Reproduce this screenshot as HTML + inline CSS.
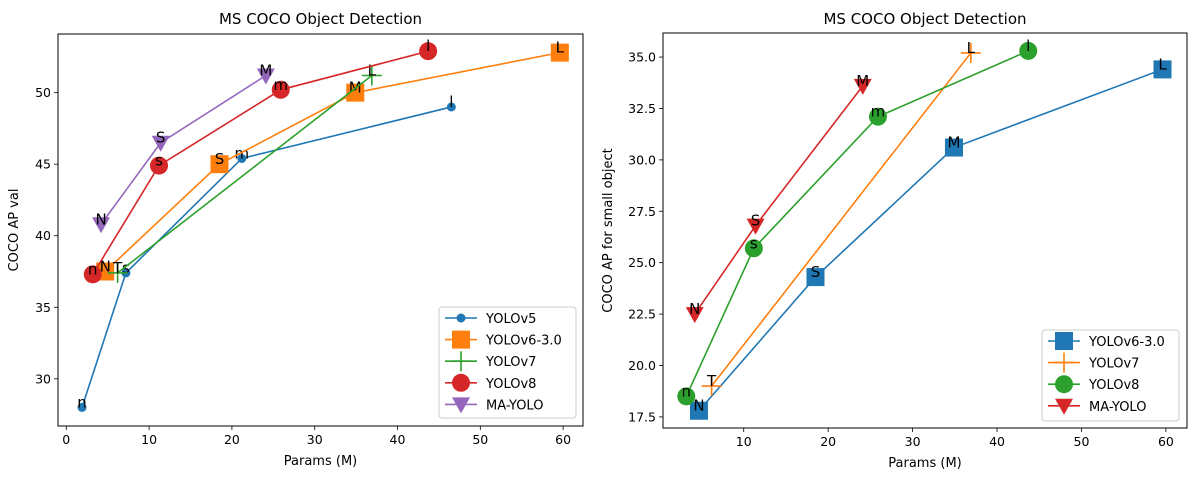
<!DOCTYPE html>
<html><head><meta charset="utf-8"><style>
body{margin:0;background:#fff;}
svg{font-family:"DejaVu Sans","Liberation Sans",sans-serif;}
</style></head><body>
<svg id="fig" width="1193" height="474" viewBox="0 0 1193 474"></svg>
<script>
// ---- data: left chart (COCO AP val) ----
const L_v5_x=[1.9,7.2,21.2,46.5], L_v5_y=[28.0,37.4,45.4,49.0], L_v5_lab=['n','s','m','l'];
const L_v6_x=[4.7,18.5,34.9,59.6], L_v6_y=[37.5,45.0,50.0,52.8], L_v6_lab=['N','S','M','L'];
const L_v7_x=[6.2,36.9], L_v7_y=[37.4,51.2], L_v7_lab=['T','L'];
const L_v8_x=[3.2,11.2,25.9,43.7], L_v8_y=[37.3,44.9,50.2,52.9], L_v8_lab=['n','s','m','l'];
const L_ma_x=[4.2,11.4,24.1], L_ma_y=[40.8,46.5,51.2], L_ma_lab=['N','S','M'];
const L_xticks=[0,10,20,30,40,50,60], L_yticks=[30,35,40,45,50];
// ---- data: right chart (small objects) ----
const R_v6_x=[4.7,18.5,34.9,59.6], R_v6_y=[17.8,24.3,30.6,34.4], R_v6_lab=['N','S','M','L'];
const R_v7_x=[6.2,36.9], R_v7_y=[19.0,35.2], R_v7_lab=['T','L'];
const R_v8_x=[3.2,11.2,25.9,43.7], R_v8_y=[18.5,25.7,32.1,35.3], R_v8_lab=['n','s','m','l'];
const R_ma_x=[4.2,11.4,24.1], R_ma_y=[22.5,26.8,33.6], R_ma_lab=['N','S','M'];
const R_xticks=[10,20,30,40,50,60], R_yticks=[17.5,20.0,22.5,25.0,27.5,30.0,32.5,35.0];

const NS='http://www.w3.org/2000/svg';
const svg=document.getElementById('fig');
function mk(tag,attrs,parent){const e=document.createElementNS(NS,tag);for(const k in attrs)e.setAttribute(k,attrs[k]);(parent||svg).appendChild(e);return e;}
function txt(s,attrs,parent){const e=mk('text',attrs,parent);e.textContent=s;return e;}

function marker(g,kind,cx,cy,color){
  let e;
  if(kind==='o') e=mk('circle',{cx,cy,r:4.5,fill:color},g);
  else if(kind==='O') e=mk('circle',{cx,cy,r:9,fill:color},g);
  else if(kind==='s') e=mk('rect',{x:cx-9,y:cy-9,width:18,height:18,fill:color},g);
  else if(kind==='+') e=mk('path',{d:`M${cx-10},${cy}H${cx+10}M${cx},${cy-10}V${cy+10}`,stroke:color,'stroke-width':1.6,fill:'none'},g);
  else if(kind==='v') e=mk('path',{d:`M${cx-9},${cy-7}L${cx+9},${cy-7}L${cx},${cy+9}Z`,fill:color},g);
  return e;
}

function chart(cfg){
  const {x0,x1,y0,y1,xmin,xmax,ymin,ymax}=cfg;
  const sx=v=>x0+(v-xmin)/(xmax-xmin)*(x1-x0);
  const sy=v=>y1-(v-ymin)/(ymax-ymin)*(y1-y0);
  const g=mk('g',{});
  
  
  const t=txt('MS COCO Object Detection',{x:(x0+x1)/2,y:24,'text-anchor':'middle','font-size':15,fill:'#000'},g);
  
  
  cfg.xticks.forEach(v=>{
    mk('line',{x1:sx(v),x2:sx(v),y1:y1,y2:y1+4,stroke:'#000','stroke-width':0.8},g);
    const e=txt(String(v),{x:sx(v),y:y1+18,'text-anchor':'middle','font-size':12.5},g);
    
    
  });
  cfg.yticks.forEach(v=>{
    mk('line',{x1:x0-4,x2:x0,y1:sy(v),y2:sy(v),stroke:'#000','stroke-width':0.8},g);
    const e=txt(cfg.yfmt(v),{x:x0-7,y:sy(v)+4.5,'text-anchor':'end','font-size':12.5},g);
    
    
  });
  const xl=txt('Params (M)',{x:(x0+x1)/2,y:y1+39,'text-anchor':'middle','font-size':13},g);
  
  
  const yx=cfg.ylx, yy=(y0+y1)/2;
  const yl=txt(cfg.ylabel,{x:yx,y:yy,'text-anchor':'middle','font-size':13,transform:`rotate(-90 ${yx} ${yy})`},g);
  
  
  cfg.series.forEach(s=>{
    const sg=mk('g',{},g);
    
    
    const pts=s.x.map((v,i)=>sx(v)+','+sy(s.y[i])).join(' ');
    mk('polyline',{points:pts,fill:'none',stroke:s.color,'stroke-width':1.6},sg);
    s.x.forEach((v,i)=>{
      const m=marker(sg,s.m,sx(v),sy(s.y[i]),s.color);
      
      
    });
    s.x.forEach((v,i)=>{
      const e=txt(s.lab[i],{x:sx(v),y:sy(s.y[i]),'text-anchor':'middle','font-size':15,fill:'#000'},sg);
      
      
    });
  });
  mk('rect',{x:x0,y:y0,width:x1-x0,height:y1-y0,fill:'none',stroke:'#000','stroke-width':1},g);
  const L=cfg.legend;
  const lg=mk('g',{},g);
  
  
  mk('rect',{x:L.x,y:L.y,width:L.w,height:L.h,rx:3,fill:'#fff','fill-opacity':0.8,stroke:'#ccc'},lg);
  cfg.series.forEach((s,i)=>{
    const cy=L.y+11+i*21.6;
    const eg=mk('g',{},lg);
    
    
    mk('line',{x1:L.x+6,x2:L.x+38,y1:cy,y2:cy,stroke:s.color,'stroke-width':1.6},eg);
    marker(eg,s.m,L.x+22,cy,s.color);
    txt(s.name,{x:L.x+47,y:cy+5,'font-size':13},eg);
  });
}

chart({name:'left-chart',x0:58,x1:583,y0:34,y1:426,xmin:-1.0,xmax:62.4,ymin:26.7,ymax:54.1,
  xticks:L_xticks,yticks:L_yticks,yfmt:v=>String(v),ylabel:'COCO AP val',ylx:18,
  legend:{x:439,y:307,w:137,h:111},
  series:[
    {key:'yolov5',name:'YOLOv5',x:L_v5_x,y:L_v5_y,lab:L_v5_lab,color:'#1f77b4',m:'o'},
    {key:'yolov6',name:'YOLOv6-3.0',x:L_v6_x,y:L_v6_y,lab:L_v6_lab,color:'#ff7f0e',m:'s'},
    {key:'yolov7',name:'YOLOv7',x:L_v7_x,y:L_v7_y,lab:L_v7_lab,color:'#2ca02c',m:'+'},
    {key:'yolov8',name:'YOLOv8',x:L_v8_x,y:L_v8_y,lab:L_v8_lab,color:'#d62728',m:'O'},
    {key:'ma-yolo',name:'MA-YOLO',x:L_ma_x,y:L_ma_y,lab:L_ma_lab,color:'#9467bd',m:'v'}
  ]});
chart({name:'right-chart',x0:663,x1:1187,y0:33,y1:428,xmin:0.44,xmax:62.5,ymin:16.96,ymax:36.17,
  xticks:R_xticks,yticks:R_yticks,yfmt:v=>v.toFixed(1),ylabel:'COCO AP for small object',ylx:612,
  legend:{x:1042,y:330,w:137,h:91},
  series:[
    {key:'yolov6',name:'YOLOv6-3.0',x:R_v6_x,y:R_v6_y,lab:R_v6_lab,color:'#1f77b4',m:'s'},
    {key:'yolov7',name:'YOLOv7',x:R_v7_x,y:R_v7_y,lab:R_v7_lab,color:'#ff7f0e',m:'+'},
    {key:'yolov8',name:'YOLOv8',x:R_v8_x,y:R_v8_y,lab:R_v8_lab,color:'#2ca02c',m:'O'},
    {key:'ma-yolo',name:'MA-YOLO',x:R_ma_x,y:R_ma_y,lab:R_ma_lab,color:'#d62728',m:'v'}
  ]});
</script>
</body></html>
